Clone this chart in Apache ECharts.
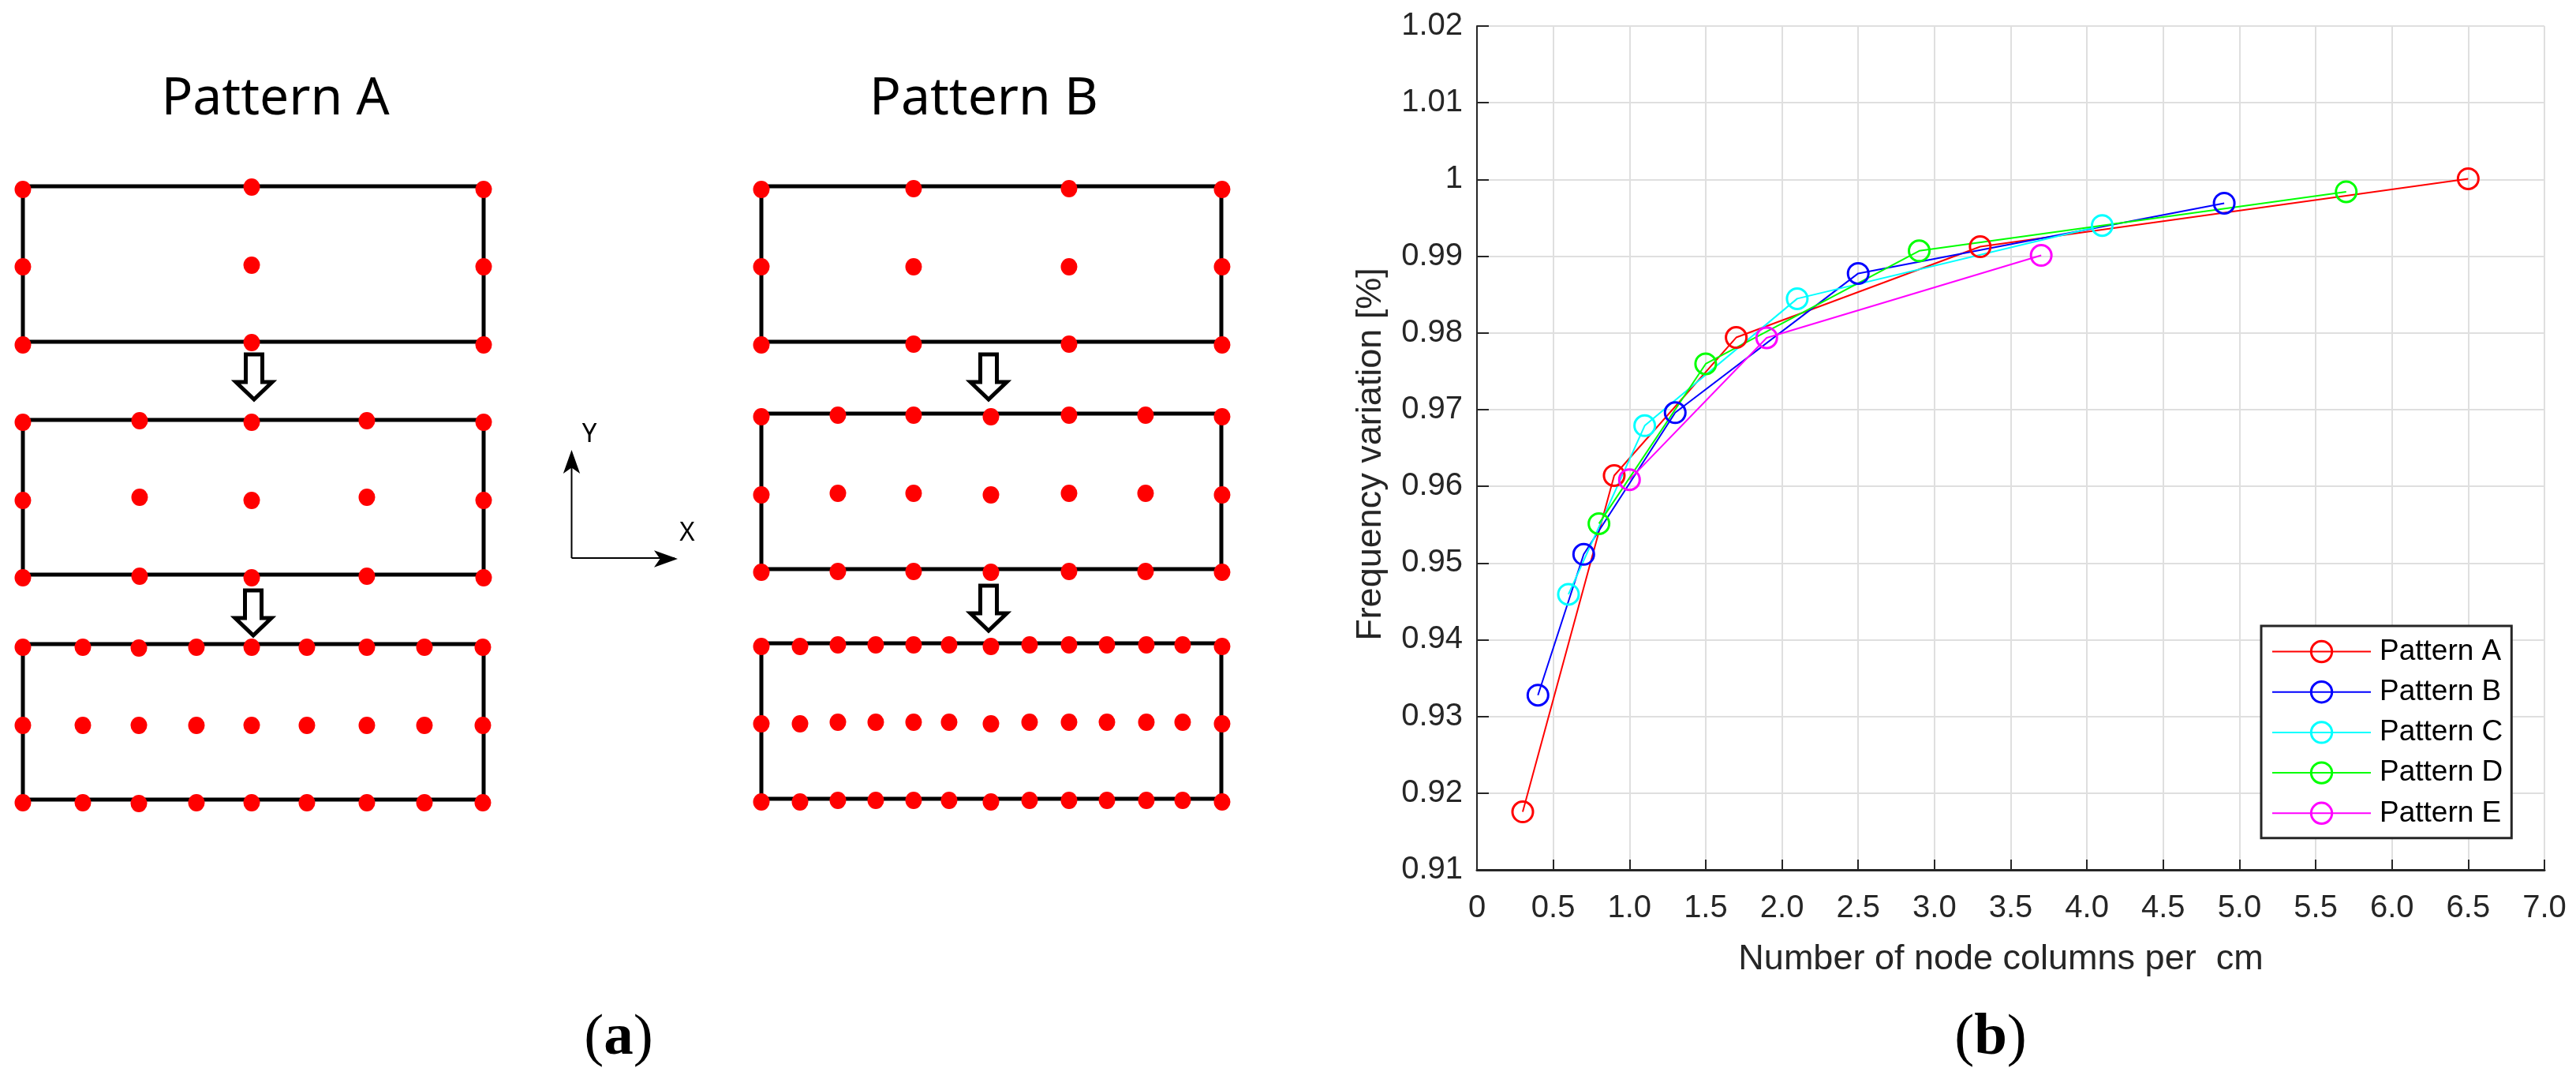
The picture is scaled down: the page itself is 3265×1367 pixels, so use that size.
<!DOCTYPE html>
<html>
<head>
<meta charset="utf-8">
<style>html,body{margin:0;padding:0;background:#fff}#c{width:3265px;height:1367px}</style>
<script src="https://cdn.jsdelivr.net/npm/echarts@6/dist/echarts.min.js"></script>
</head>
<body>
<div id="c"></div>
<script>
// ---- panel (b) data ----
const patternNames = ['Pattern A','Pattern B','Pattern C','Pattern D','Pattern E'];
const patternColors = ['#ff0000','#0000ff','#00ffff','#00ff00','#ff00ff'];
const columnsA = [0.3,0.9,1.7,3.3,6.5];
const freqA    = [0.91756,0.9614,0.9794,0.99124,1.0001];
const columnsB = [0.4,0.7,1.3,2.5,4.9];
const freqB    = [0.93277,0.95113,0.9696,0.98775,0.9969];
const columnsC = [0.6,1.1,2.1,4.1];
const freqC    = [0.94592,0.9679,0.98446,0.994];
const columnsD = [0.8,1.5,2.9,5.7];
const freqD    = [0.95513,0.97596,0.99069,0.9984];
const columnsE = [1.0,1.9,3.7];
const freqE    = [0.96087,0.97936,0.9901];
const xTickLabels = ['0','0.5','1.0','1.5','2.0','2.5','3.0','3.5','4.0','4.5','5.0','5.5','6.0','6.5','7.0'];
const yTickLabels = ['0.91','0.92','0.93','0.94','0.95','0.96','0.97','0.98','0.99','1','1.01','1.02'];

// ---- panel (a) schematic, in sheet units ----
const rectLeftA = 29, rectRightA = 613, rectLeftB = 965, rectRightB = 1548;
const rectRowsA = [[236,433],[532,728],[816,1013]];
const rectRowsB = [[236,433],[524,721],[815,1012]];
const nodesA1 = {x:[29,319,613], y:[[240,338,437],[237,336,434],[240,338,437]]};
const nodesA2 = {x:[29,177,319,465,613], y:[[535,634,732],[533,630,730],[535,634,732],[533,630,730],[535,634,732]]};
const nodesA3 = {x:[29,105,176,249,319,389,465,538,612], y:[[820,919,1017],[820,919,1017],[821,919,1018],[820,919,1017],[820,919,1017],[820,919,1017],[820,919,1017],[820,919,1017],[820,919,1017]]};
const nodesB1 = {x:[965,1158,1355,1549], y:[[240,338,437],[239,338,436],[239,338,436],[240,338,437]]};
const nodesB2 = {x:[965,1062,1158,1256,1355,1452,1549], y:[[528,627,725],[526,625,724],[526,625,724],[528,627,725],[526,625,724],[526,625,724],[528,627,725]]};
const nodesB3 = {x:[965,1014,1062,1110,1158,1203,1256,1305,1355,1403,1453,1499,1549],
  y:[[819,917,1016],[819,917,1016],[817,915,1014],[817,915,1014],[817,915,1014],[817,915,1014],[819,917,1016],[817,915,1014],[817,915,1014],[817,915,1014],[817,915,1014],[817,915,1014],[819,917,1016]]};
const arrowTopsX = [322,321,1253,1253];
const arrowTopsY = [449,748,449,742];
const axisCorner = [724.5,707];
const axisEnds = [[724.5,575],[855,707]];
const axisHeads = [[724.5,570,0],[859,708,-90]];

// ---- build ----
const pair = (xs,ys)=>xs.map((x,i)=>[x,ys[i]]);
const rect = (l,r,row)=>[[l,row[0]],[r,row[0]],[r,row[1]],[l,row[1]],[l,row[0]]];
const nodePoints = n => n.x.flatMap((x,i)=>n.y[i].map(y=>[x,y]));
const arrowPath = (x,y)=>[[x-10.5,y],[x+10.5,y],[x+10.5,y+35],[x+23,y+35],[x,y+57],[x-23,y+35],[x-10.5,y+35],[x-10.5,y]];

const sheet = {xAxisIndex:1,yAxisIndex:1,silent:true,animation:false};
const series = [];
[[rectLeftA,rectRightA,rectRowsA],[rectLeftB,rectRightB,rectRowsB]].forEach(([l,r,rows])=>{
  rows.forEach(row=>series.push({...sheet,type:'line',data:rect(l,r,row),symbol:'none',z:2,
    lineStyle:{color:'#000',width:5,join:'miter',cap:'square'}}));
});
arrowTopsX.forEach((x,i)=>series.push({...sheet,type:'line',data:arrowPath(x,arrowTopsY[i]),symbol:'none',z:2,
  lineStyle:{color:'#000',width:5,join:'miter',cap:'square'}}));
series.push({...sheet,type:'scatter',z:3,symbol:'circle',symbolSize:[21,22],itemStyle:{color:'#ff0000',opacity:1},
  data:[nodesA1,nodesA2,nodesA3,nodesB1,nodesB2,nodesB3].flatMap(nodePoints)});
axisEnds.forEach(e=>series.push({...sheet,type:'line',data:[axisCorner,e],symbol:'none',z:2,lineStyle:{color:'#000',width:2}}));
axisHeads.forEach(h=>series.push({...sheet,type:'scatter',z:3,symbol:'arrow',symbolSize:[16,30],symbolRotate:h[2],
  itemStyle:{color:'#000',opacity:1},data:[[h[0],h[1]]]}));

const plotData = [pair(columnsA,freqA),pair(columnsB,freqB),pair(columnsC,freqC),pair(columnsD,freqD),pair(columnsE,freqE)];
plotData.forEach((d,i)=>series.push({
  name:patternNames[i],type:'line',xAxisIndex:0,yAxisIndex:0,data:d,animation:false,silent:true,z:5,
  symbol:'circle',symbolSize:26,showSymbol:true,
  lineStyle:{color:patternColors[i],width:2},
  itemStyle:{color:'rgba(255,255,255,0)',borderColor:patternColors[i],borderWidth:3,opacity:1}
}));

const ink = '#262626';
const sans = '"Liberation Sans"';
const option = {
  backgroundColor:'#fff',
  animation:false,
  grid:[
    {left:1872,right:40,top:33,bottom:265,containLabel:false},
    {left:0,right:0,top:0,bottom:0}
  ],
  xAxis:[
    {type:'value',gridIndex:0,min:0,max:7,interval:0.5,
      name:'Number of node columns per  cm',nameLocation:'middle',nameGap:91,
      nameTextStyle:{color:ink,fontFamily:sans,fontSize:45,padding:[0,25,0,0]},
      axisLine:{show:true,onZero:false,lineStyle:{color:ink,width:3}},
      axisTick:{show:true,inside:true,length:13,lineStyle:{color:ink,width:2}},
      axisLabel:{show:true,color:ink,fontFamily:sans,fontSize:40,margin:29,showMinLabel:true,showMaxLabel:true,hideOverlap:false,
        formatter:(v)=>xTickLabels[Math.round(v/0.5)]},
      splitLine:{show:true,lineStyle:{color:'#dfdfdf',width:2}}},
    {type:'value',gridIndex:1,min:0,max:3265,show:false,splitLine:{show:false}}
  ],
  yAxis:[
    {type:'value',gridIndex:0,min:0.91,max:1.02,interval:0.01,
      name:'Frequency variation [%]',nameLocation:'middle',nameGap:112,
      nameTextStyle:{color:ink,fontFamily:sans,fontSize:45,padding:[0,16,0,0]},
      axisLine:{show:true,onZero:false,lineStyle:{color:ink,width:2}},
      axisTick:{show:true,inside:true,length:15,lineStyle:{color:ink,width:2}},
      axisLabel:{show:true,color:ink,fontFamily:sans,fontSize:40,margin:18,showMinLabel:true,showMaxLabel:true,hideOverlap:false,
        padding:[6,0,0,0],
        formatter:(v)=>yTickLabels[Math.round((v-0.91)/0.01)]},
      splitLine:{show:true,lineStyle:{color:'#dfdfdf',width:2}}},
    {type:'value',gridIndex:1,min:0,max:1367,inverse:true,show:false,splitLine:{show:false}}
  ],
  legend:{
    show:true,orient:'vertical',left:2866,top:793,data:patternNames,
    backgroundColor:'#fff',borderColor:ink,borderWidth:3,
    padding:[14,11,13,13],itemWidth:125,itemHeight:33,itemGap:14.2,selectedMode:false,
    itemStyle:{borderWidth:3},lineStyle:{width:2},
    textStyle:{color:'#000',fontFamily:sans,fontSize:37,lineHeight:33,padding:[0,0,0,6]}
  },
  graphic:[
    {type:'text',x:349,y:126,style:{text:'Pattern A',fontFamily:'"Noto Sans"',fontSize:66,fill:'#000',align:'center',verticalAlign:'middle'}},
    {type:'text',x:1247,y:126,style:{text:'Pattern B',fontFamily:'"Noto Sans"',fontSize:66,fill:'#000',align:'center',verticalAlign:'middle'}},
    {type:'text',x:747,y:551,style:{text:'Y',fontFamily:'"Noto Sans"',fontSize:33,fill:'#000',align:'center',verticalAlign:'middle'}},
    {type:'text',x:871,y:676,style:{text:'X',fontFamily:'"Noto Sans"',fontSize:33,fill:'#000',align:'center',verticalAlign:'middle'}},
    {type:'text',x:784,y:1316,style:{text:'{p|(}{b|a}{p|)}',align:'center',verticalAlign:'middle',rich:{
      p:{fontFamily:'"Liberation Serif"',fontSize:75,fill:'#000'},b:{fontFamily:'"Liberation Serif"',fontWeight:'bold',fontSize:75,fill:'#000'}}}},
    {type:'text',x:2523,y:1316,style:{text:'{p|(}{b|b}{p|)}',align:'center',verticalAlign:'middle',rich:{
      p:{fontFamily:'"Liberation Serif"',fontSize:75,fill:'#000'},b:{fontFamily:'"Liberation Serif"',fontWeight:'bold',fontSize:75,fill:'#000'}}}}
  ],
  series
};
const chart = echarts.init(document.getElementById('c'),null,{renderer:'canvas'});
chart.setOption(option);
</script>
</body>
</html>
